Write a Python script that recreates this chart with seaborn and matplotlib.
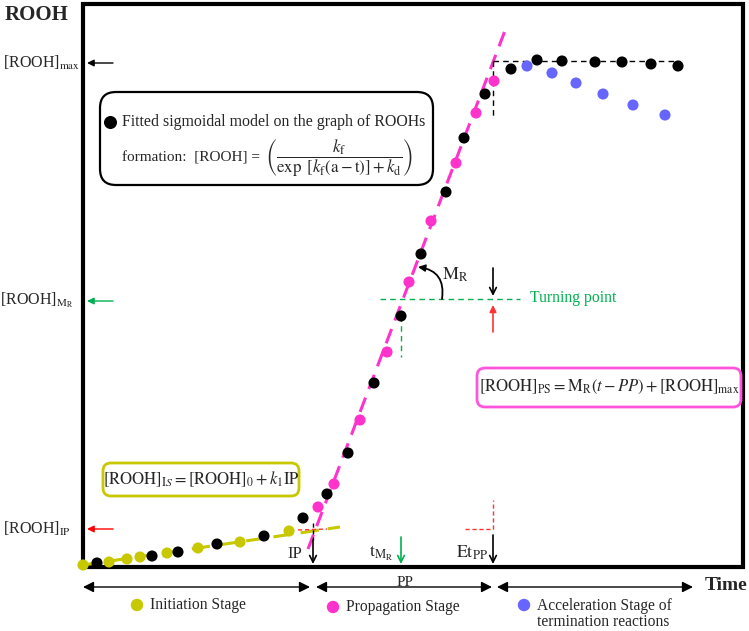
import numpy as np
import pandas as pd
import matplotlib
matplotlib.use("Agg")
import matplotlib.pyplot as plt
import seaborn as sns
from matplotlib.patches import Rectangle, FancyBboxPatch, FancyArrowPatch

sns.set_theme(style="white")
plt.rcParams['font.family'] = ['Liberation Serif', 'DejaVu Serif']
plt.rcParams['mathtext.fontset'] = 'stix'

# ---- data (time, ROOH) in arbitrary units ----
init_t = [0, 26, 44, 57, 84, 115, 157, 206]
init_r = [2, 5, 8, 10, 14, 19, 25, 36]
fit_t = [14, 69, 95, 134, 181, 220, 244, 265, 291, 318, 338, 363, 381, 402, 428, 454, 479, 512, 539, 568, 595]
fit_r = [4, 11, 15, 23, 31, 49, 73, 114, 184, 251, 313, 375, 429, 473, 498, 507, 506, 505, 505, 503, 501]
prop_t = [235, 251, 277, 304, 326, 348, 373, 393, 411]
prop_r = [60, 83, 147, 215, 285, 346, 404, 454, 486]
acc_t = [444, 469, 493, 520, 550, 582]
acc_r = [501, 494, 484, 473, 462, 452]

stages = ["Initiation Stage", "Propagation Stage", "Acceleration Stage of\ntermination reactions"]
colors = {"init": "#c8c800", "prop": "#ff33cc", "acc": "#6666ff", "fit": "#000000"}

df = pd.concat([
    pd.DataFrame({"t": init_t, "r": init_r, "s": "init"}),
    pd.DataFrame({"t": fit_t, "r": fit_r, "s": "fit"}),
    pd.DataFrame({"t": prop_t, "r": prop_r, "s": "prop"}),
    pd.DataFrame({"t": acc_t, "r": acc_r, "s": "acc"}),
])

fig = plt.figure(figsize=(7.49, 6.31), dpi=100)
ax = fig.add_axes([0, 0, 1, 1])
ax.set_xlim(-83, 666)
ax.set_ylim(-64, 567)
ax.axis("off")

# frame
ax.add_patch(Rectangle((0, 0), 660, 563, fill=False, lw=3, ec="black", zorder=2))

# fitted lines
ax.plot([225, 423], [18, 539], color=colors["prop"], lw=2.2, ls=(0, (5, 3)), zorder=3)
ax.plot([0, 257], [2, 40], color=colors["init"], lw=2.2, ls=(0, (6, 3)), zorder=3)
ax.plot([215, 244], [37, 38], color="#ff3333", lw=1, ls=(0, (3, 2)), zorder=3)

sns.scatterplot(data=df, x="t", y="r", hue="s", palette=colors, s=64,
                edgecolor="none", legend=False, ax=ax, zorder=5, clip_on=False)

def arrow(x0, y0, x1, y1, color="black", style="->", lw=1.2, ms=12):
    ax.add_patch(FancyArrowPatch((x0, y0), (x1, y1), arrowstyle=style,
                                 color=color, lw=lw, mutation_scale=ms,
                                 shrinkA=0, shrinkB=0, zorder=6, clip_on=False))

# top dashed L
ax.plot([410, 597], [506, 506], color="black", lw=1, ls=(0, (4, 3)), zorder=3)
ax.plot([410, 410], [506, 450], color="black", lw=1, ls=(0, (4, 3)), zorder=3)

# turning point
green = "#00b050"
ax.plot([297, 437], [268, 268], color=green, lw=1, ls=(0, (4, 3)), zorder=3)
ax.plot([318, 318], [251, 210], color=green, lw=1, ls=(0, (4, 3)), zorder=3)
ax.text(447, 269, "Turning point", color=green, fontsize=11.3, va="center", ha="left")
arrow(410, 299, 410, 271, "black", "->", 1.2, 12)
arrow(410, 235, 410, 262, "#ff3333", "-|>", 1.2, 10)
ax.add_patch(FancyArrowPatch((359, 268), (335, 300), connectionstyle="arc3,rad=0.5",
                             arrowstyle="-|>", color="black", lw=1.3, mutation_scale=10,
                             shrinkA=0, shrinkB=0, zorder=6))
ax.text(359, 292, r"$\mathrm{M_R}$", fontsize=13, va="center", ha="left")

# red L near Et_PP
ax.plot([382, 410], [38, 38], color="#ff3333", lw=1, ls=(0, (3, 2)), zorder=3)
ax.plot([410, 410], [38, 67], color="#ff3333", lw=1, ls=(0, (3, 2)), zorder=3)

# bottom markers
ax.plot([230, 230], [44, 27], color="black", lw=1, ls=(0, (3, 2)), zorder=3)
arrow(230, 27, 230, 3, "black", "->", 1.2, 12)
ax.text(219, 13, "IP", fontsize=12, ha="right", va="center")
arrow(318, 30, 318, 3, green, "->", 1.2, 12)
ax.text(311, 14, r"$\mathrm{t_{M_R}}$", fontsize=13, ha="right", va="center")
arrow(410, 32, 410, 3, "black", "->", 1.2, 12)
ax.text(405, 14, r"$\mathrm{Et_{PP}}$", fontsize=13, ha="right", va="center")

# left side labels
arrow(30, 504, 4, 504, "black", "-|>", 1.0, 10)
ax.text(-80, 504, r"[ROOH]$_\mathrm{max}$", fontsize=11.5, ha="left", va="center")
arrow(30, 266, 4, 266, green, "-|>", 1.0, 10)
ax.text(-83, 267, r"[ROOH]$_{\mathrm{M_R}}$", fontsize=11.5, ha="left", va="center")
arrow(30, 38, 4, 38, "red", "-|>", 1.0, 10)
ax.text(-80, 38, r"[ROOH]$_\mathrm{IP}$", fontsize=11.5, ha="left", va="center")
ax.text(-78, 552, "ROOH", fontsize=15, fontweight="bold", ha="left", va="center")
ax.text(622, -18, "Time", fontsize=14, fontweight="bold", ha="left", va="center")

# bottom stage arrows
for a, b in [(0, 227), (233, 409), (414, 610)]:
    arrow(a, -20, b, -20, "black", "<|-|>", 1.0, 16)
ax.text(322, -15, "PP", fontsize=11, ha="center", va="center")

leg_t = [54, 250, 441]
leg_r = [-38, -40, -38]
for (lt, lr, key, lab) in zip(leg_t, leg_r, ["init", "prop", "acc"], stages):
    ax.scatter([lt], [lr], s=80, color=colors[key], edgecolor="none", clip_on=False, zorder=6)
    multi = "\n" in lab
    ax.text(lt + 13, lr - (9 if multi else 0), lab, fontsize=11.2,
            ha="left", va="center", linespacing=0.98)

# sigmoid box
ax.add_patch(FancyBboxPatch((17, 382), 333, 93, boxstyle="round,pad=0,rounding_size=16",
                            fill=True, fc="white", ec="black", lw=1.6, zorder=4))
ax.scatter([27], [445], s=70, color="black", zorder=6)
ax.text(39, 445, "Fitted sigmoidal model on the graph of ROOHs", fontsize=11.4,
        ha="left", va="center", zorder=6)
ax.text(39, 409, "formation:  [ROOH] =", fontsize=11, ha="left", va="center", zorder=6)
ax.text(182, 409,
        r"$\left(\dfrac{k_\mathrm{f}}{\exp\ [k_\mathrm{f}(\mathrm{a}-\mathrm{t})]+k_\mathrm{d}}\right)$",
        fontsize=12.2, ha="left", va="center", zorder=6)

# IS box
ax.add_patch(FancyBboxPatch((20, 71), 196, 33, boxstyle="round,pad=0,rounding_size=8",
                            fill=True, fc="white", ec=colors["init"], lw=2, zorder=4))
ax.text(118, 88, r"$[\mathrm{ROOH}]_{\mathrm{I}S}=[\mathrm{ROOH}]_0+k_1\mathrm{IP}$",
        fontsize=12, ha="center", va="center", zorder=6)

# PS box
ax.add_patch(FancyBboxPatch((394, 160), 264, 39, boxstyle="round,pad=0,rounding_size=8",
                            fill=True, fc="white", ec="#ff55dd", lw=2, zorder=4))
ax.text(526, 180, r"$[\mathrm{ROOH}]_{\mathrm{PS}}=\mathrm{M_R}(t-PP)+[\mathrm{ROOH}]_{\mathrm{max}}$",
        fontsize=12, ha="center", va="center", zorder=6)

fig.savefig("out.png", dpi=100)
